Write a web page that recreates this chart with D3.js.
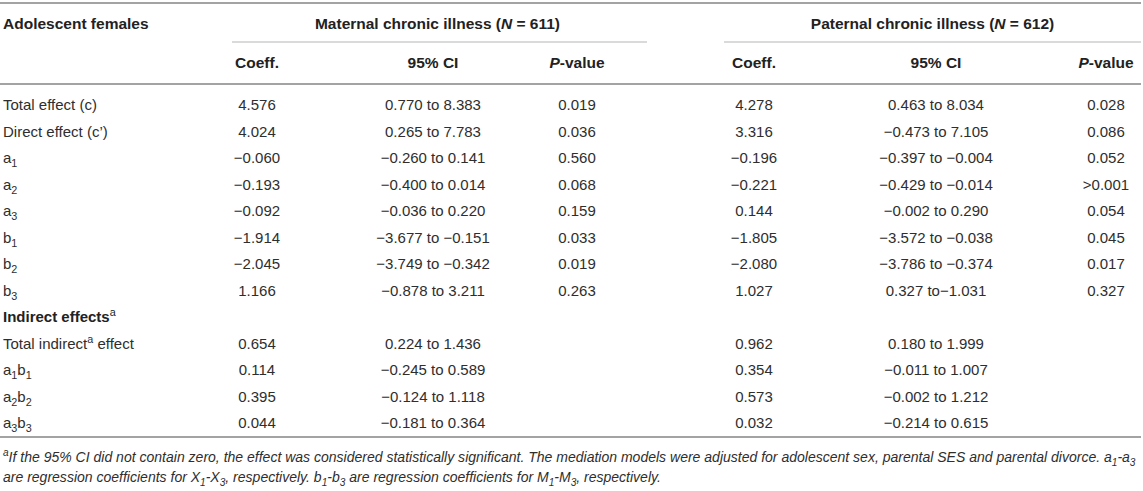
<!DOCTYPE html>
<html>
<head>
<meta charset="utf-8">
<script src="https://cdn.jsdelivr.net/npm/d3@7/dist/d3.min.js"></script>
<style>
  html, body { margin: 0; padding: 0; background: #fff; }
  svg { display: block; }
  text { font-family: "Liberation Sans", Arial, Helvetica, sans-serif; fill: #2e2e2e; }
</style>
</head>
<body>
<svg id="chart" width="1143" height="491"></svg>
<script>
// ---------------- data ----------------
const groupTitle = "Adolescent females";
const spannerTitles = ["Maternal chronic illness (*N* = 611)", "Paternal chronic illness (*N* = 612)"];
const subHeaders = ["Coeff.", "95% CI", "*P*-value"];

const rowLabels = [
  "Total effect (c)", "Direct effect (c\u2019)",
  "a_1", "a_2", "a_3", "b_1", "b_2", "b_3",
  "**Indirect effects**^a",
  "Total indirect^a effect", "a_1b_1", "a_2b_2", "a_3b_3"
];
const boldRows = [8];

const maternalCoeff = ["4.576","4.024","\u22120.060","\u22120.193","\u22120.092","\u22121.914","\u22122.045","1.166","","0.654","0.114","0.395","0.044"];
const maternalCI = ["0.770 to 8.383","0.265 to 7.783","\u22120.260 to 0.141","\u22120.400 to 0.014","\u22120.036 to 0.220","\u22123.677 to \u22120.151","\u22123.749 to \u22120.342","\u22120.878 to 3.211","","0.224 to 1.436","\u22120.245 to 0.589","\u22120.124 to 1.118","\u22120.181 to 0.364"];
const maternalP = ["0.019","0.036","0.560","0.068","0.159","0.033","0.019","0.263","","","","",""];

const paternalCoeff = ["4.278","3.316","\u22120.196","\u22120.221","0.144","\u22121.805","\u22122.080","1.027","","0.962","0.354","0.573","0.032"];
const paternalCI = ["0.463 to 8.034","\u22120.473 to 7.105","\u22120.397 to \u22120.004","\u22120.429 to \u22120.014","\u22120.002 to 0.290","\u22123.572 to \u22120.038","\u22123.786 to \u22120.374","0.327 to\u22121.031","","0.180 to 1.999","\u22120.011 to 1.007","\u22120.002 to 1.212","\u22120.214 to 0.615"];
const paternalP = ["0.028","0.086","0.052",">0.001","0.054","0.045","0.017","0.327","","","","",""];

const footnoteLines = [
  "^aIf the 95% CI did not contain zero, the effect was considered statistically significant. The mediation models were adjusted for adolescent sex, parental SES and parental divorce. a_1-a_3",
  "are regression coefficients for X_1-X_3, respectively. b_1-b_3 are regression coefficients for M_1-M_3, respectively."
];

// ---------------- layout ----------------
const svg = d3.select("#chart");

const columns = ["mCoeff","mCI","mP","pCoeff","pCI","pP"];
const columnData = {
  mCoeff: maternalCoeff, mCI: maternalCI, mP: maternalP,
  pCoeff: paternalCoeff, pCI: paternalCI, pP: paternalP
};
const x = d3.scaleOrdinal().domain(columns).range([257, 433, 577, 754, 936, 1106]);
const spanX = [[232, 647], [724, 1141]];
const y = d3.scaleLinear().domain([0, rowLabels.length - 1]).range([105, 423]);

const headY1 = 24, spanLineY = 42, headY2 = 63, headRuleY = 84, bottomRuleY = 437;
const footY = [462, 482];
const baseOff = 5;
const fontSize = 15;

// markup: **bold**, *italic*, _x subscript, ^x superscript
function parse(str) {
  const segs = [];
  let bold = false, ital = false, buf = "";
  const flush = (pos) => { if (buf) segs.push({t: buf, bold, ital, pos: pos || null}); buf = ""; };
  for (let i = 0; i < str.length; i++) {
    const c = str[i];
    if (c === "*" && str[i+1] === "*") { flush(); bold = !bold; i++; continue; }
    if (c === "*") { flush(); ital = !ital; continue; }
    if (c === "_" || c === "^") {
      flush();
      buf = str[i+1]; flush(c === "_" ? "sub" : "sup"); i++; continue;
    }
    buf += c;
  }
  flush();
  return segs;
}

function richText(g, str, opts) {
  const t = g.append("text")
    .attr("x", opts.x).attr("y", opts.y)
    .attr("text-anchor", opts.anchor || "start")
    .style("font-size", (opts.size || fontSize) + "px")
    .style("font-weight", opts.bold ? "bold" : "normal")
    .style("font-style", opts.italic ? "italic" : "normal");
  let shift = 0;
  parse(str).forEach(s => {
    const target = s.pos === "sub" ? 4 : s.pos === "sup" ? -6 : 0;
    const ts = t.append("tspan").text(s.t).attr("dy", target - shift);
    shift = target;
    if (s.pos) ts.style("font-size", "0.72em");
    if (s.bold) ts.style("font-weight", "bold");
    if (s.ital) ts.style("font-style", "italic");
  });
  return t;
}

// rules
const ruleColor = "#a3a3a3";
[[3, 2], [headRuleY, 2], [bottomRuleY, 2]].forEach(([yy, w]) => {
  svg.append("line").attr("x1", 0).attr("x2", 1141).attr("y1", yy).attr("y2", yy)
    .attr("stroke", ruleColor).attr("stroke-width", w);
});
spanX.forEach(([a, b]) => {
  svg.append("line").attr("x1", a).attr("x2", b).attr("y1", spanLineY).attr("y2", spanLineY)
    .attr("stroke", "#b5b5b5").attr("stroke-width", 1.2);
});

// header
const head = svg.append("g").attr("class", "head");
richText(head, groupTitle, {x: 3, y: headY1 + baseOff, bold: true, size: 15.5}).style("fill", "#222");
spannerTitles.forEach((s, i) => {
  richText(head, s, {x: (spanX[i][0] + spanX[i][1]) / 2 + (i === 0 ? -2 : 0), y: headY1 + baseOff, bold: true, anchor: "middle", size: 15.5}).style("fill", "#222");
});
columns.forEach((c, i) => {
  richText(head, subHeaders[i % 3], {x: x(c), y: headY2 + baseOff, bold: true, anchor: "middle", size: 15.5}).style("fill", "#222");
});

// body
const body = svg.append("g").attr("class", "body");
rowLabels.forEach((lab, i) => {
  richText(body, lab, {x: 3, y: y(i) + baseOff, bold: false}).style("fill", boldRows.includes(i) ? "#222" : "#2e2e2e");
});
columns.forEach(c => {
  body.selectAll(null).data(columnData[c]).enter().append("text")
    .attr("x", x(c))
    .attr("y", (d, i) => y(i) + baseOff)
    .attr("text-anchor", "middle")
    .style("font-size", fontSize + "px")
    .text(d => d);
});

// footnote
const foot = svg.append("g").attr("class", "foot");
let fs = 14;
const t0 = richText(foot, footnoteLines[0], {x: 3, y: footY[0], italic: true, size: fs});
const len = t0.node().getComputedTextLength();
fs = fs * 1133 / len;
t0.style("font-size", fs + "px");
richText(foot, footnoteLines[1], {x: 3, y: footY[1], italic: true, size: fs});
</script>
</body>
</html>
